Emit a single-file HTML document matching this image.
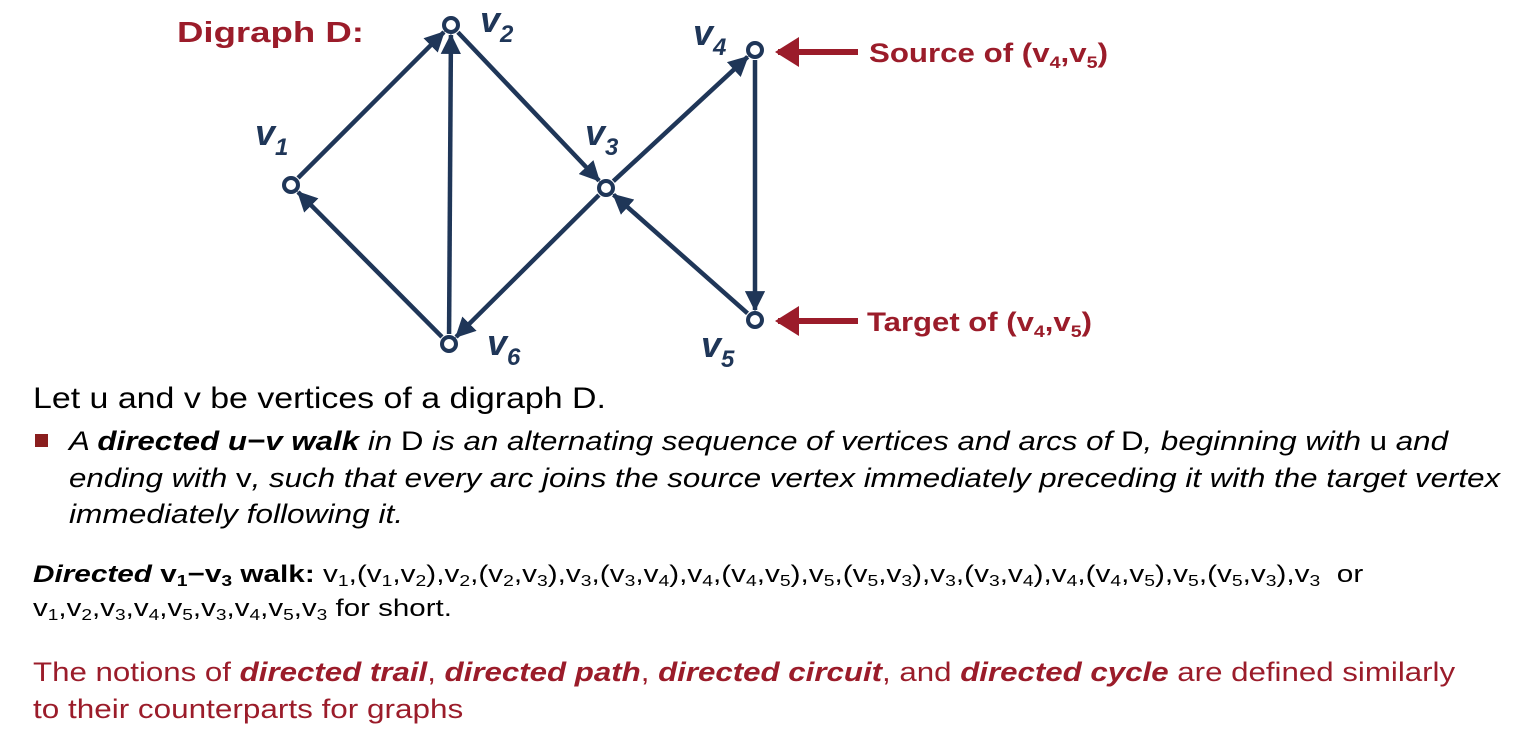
<!DOCTYPE html>
<html><head><meta charset="utf-8"><style>
html,body{margin:0;padding:0;background:#fff;width:1534px;height:754px;overflow:hidden;position:relative;font-family:"Liberation Sans",Arial,sans-serif}
.ln{position:absolute;white-space:nowrap;transform-origin:0 0;line-height:1}
.red{color:#9b1c2a}
sub{font-size:0.65em;vertical-align:-0.25em;line-height:0}
</style></head><body>
<svg width="1534" height="380" style="position:absolute;left:0;top:0">
<defs>
<marker id="ah" markerWidth="4.5" markerHeight="4.5" refX="4.2" refY="2.25" orient="auto" markerUnits="strokeWidth"><path d="M0,0 L4.5,2.25 L0,4.5 z" fill="#1f3658"/></marker>
<marker id="rh" markerWidth="4" markerHeight="5" refX="3.5" refY="2.5" orient="auto" markerUnits="strokeWidth"><path d="M0,0 L4,2.5 L0,5 z" fill="#9b1c2a"/></marker>
</defs>
<g id="arcs" stroke="#1f3658" stroke-width="4.5" fill="none"></g>
<g id="nodes"></g>
<text x="177" y="42" fill="#9b1c2a" font-weight="bold" font-size="29" textLength="187" lengthAdjust="spacingAndGlyphs">Digraph D:</text>
<g font-style="italic" font-weight="bold" font-size="36" fill="#1f3658">
<text x="255" y="145">v<tspan font-size="24" dy="10">1</tspan></text>
<text x="480" y="32">v<tspan font-size="24" dy="10">2</tspan></text>
<text x="585" y="145">v<tspan font-size="24" dy="10">3</tspan></text>
<text x="693" y="45">v<tspan font-size="24" dy="10">4</tspan></text>
<text x="701" y="357">v<tspan font-size="24" dy="10">5</tspan></text>
<text x="487" y="355">v<tspan font-size="24" dy="10">6</tspan></text>
</g>
<line x1="858" y1="52" x2="778" y2="52" stroke="#9b1c2a" stroke-width="6" marker-end="url(#rh)"/>
<line x1="858" y1="321" x2="778" y2="321" stroke="#9b1c2a" stroke-width="6" marker-end="url(#rh)"/>
<text x="869" y="62" fill="#9b1c2a" font-weight="bold" font-size="27" textLength="239" lengthAdjust="spacingAndGlyphs">Source of (v<tspan font-size="17" dy="6">4</tspan><tspan dy="-6">,v</tspan><tspan font-size="17" dy="6">5</tspan><tspan dy="-6">)</tspan></text>
<text x="867" y="331" fill="#9b1c2a" font-weight="bold" font-size="27" textLength="225" lengthAdjust="spacingAndGlyphs">Target of (v<tspan font-size="17" dy="6">4</tspan><tspan dy="-6">,v</tspan><tspan font-size="17" dy="6">5</tspan><tspan dy="-6">)</tspan></text>
</svg>

<div class="ln" data-w="573" style="left:33px;top:384px;font-size:30px">Let u and v be vertices of a digraph D.</div>
<div style="position:absolute;left:35px;top:434px;width:13px;height:13px;background:#8a1e1e"></div>
<div class="ln" data-w="1379" style="left:69px;top:428px;font-size:27px;font-style:italic"><i>A <b>directed u−v walk</b> in </i><span style="font-style:normal">D</span> is an alternating sequence of vertices and arcs of <span style="font-style:normal">D</span>, beginning with <span style="font-style:normal">u</span> and</div>
<div class="ln" data-w="1431" style="left:69px;top:465px;font-size:27px;font-style:italic">ending with <span style="font-style:normal">v</span>, such that every arc joins the source vertex immediately preceding it with the target vertex</div>
<div class="ln" data-w="334" style="left:69px;top:501px;font-size:27px;font-style:italic">immediately following it.</div>
<div class="ln" data-w="1330" style="left:33px;top:563px;font-size:24px"><b><i>Directed</i> v<sub>1</sub>−v<sub>3</sub> walk:</b> v<sub>1</sub>,(v<sub>1</sub>,v<sub>2</sub>),v<sub>2</sub>,(v<sub>2</sub>,v<sub>3</sub>),v<sub>3</sub>,(v<sub>3</sub>,v<sub>4</sub>),v<sub>4</sub>,(v<sub>4</sub>,v<sub>5</sub>),v<sub>5</sub>,(v<sub>5</sub>,v<sub>3</sub>),v<sub>3</sub>,(v<sub>3</sub>,v<sub>4</sub>),v<sub>4</sub>,(v<sub>4</sub>,v<sub>5</sub>),v<sub>5</sub>,(v<sub>5</sub>,v<sub>3</sub>),v<sub>3</sub>&nbsp; or</div>
<div class="ln" data-w="419" style="left:33px;top:597px;font-size:24px">v<sub>1</sub>,v<sub>2</sub>,v<sub>3</sub>,v<sub>4</sub>,v<sub>5</sub>,v<sub>3</sub>,v<sub>4</sub>,v<sub>5</sub>,v<sub>3</sub> for short.</div>
<div class="ln red" data-w="1422" style="left:33px;top:659px;font-size:27px">The notions of <b><i>directed trail</i></b>, <b><i>directed path</i></b>, <b><i>directed circuit</i></b>, and <b><i>directed cycle</i></b> are defined similarly</div>
<div class="ln red" data-w="430" style="left:33px;top:696px;font-size:27px">to their counterparts for graphs</div>

<script>
const nodeNames=['v1','v2','v3','v4','v5','v6'];
const nodeX=[291,451,606,755,755,449];
const nodeY=[185,25,188,50,320,344];
const arcFrom=[0,5,1,2,3,4,2,5];
const arcTo=[1,1,2,3,4,2,5,0];
const NS='http://www.w3.org/2000/svg';
const ag=document.getElementById('arcs'),ng=document.getElementById('nodes');
for(let i=0;i<arcFrom.length;i++){
  const a=arcFrom[i],b=arcTo[i];
  const dx=nodeX[b]-nodeX[a],dy=nodeY[b]-nodeY[a],L=Math.hypot(dx,dy);
  const ux=dx/L,uy=dy/L,r=10;
  const l=document.createElementNS(NS,'line');
  l.setAttribute('x1',nodeX[a]+ux*r);l.setAttribute('y1',nodeY[a]+uy*r);
  l.setAttribute('x2',nodeX[b]-ux*r);l.setAttribute('y2',nodeY[b]-uy*r);
  l.setAttribute('marker-end','url(#ah)');
  
  
  ag.appendChild(l);
}
for(let i=0;i<nodeNames.length;i++){
  const c=document.createElementNS(NS,'circle');
  c.setAttribute('cx',nodeX[i]);c.setAttribute('cy',nodeY[i]);c.setAttribute('r',7);
  c.setAttribute('fill','#fff');c.setAttribute('stroke','#1f3658');c.setAttribute('stroke-width','4');
  
  
  ng.appendChild(c);
}
document.querySelectorAll('.ln').forEach(e=>{
  const w=+e.getAttribute('data-w');const s=w/e.scrollWidth;
  e.style.transform='scaleX('+s+')';
});
</script>
</body></html>
